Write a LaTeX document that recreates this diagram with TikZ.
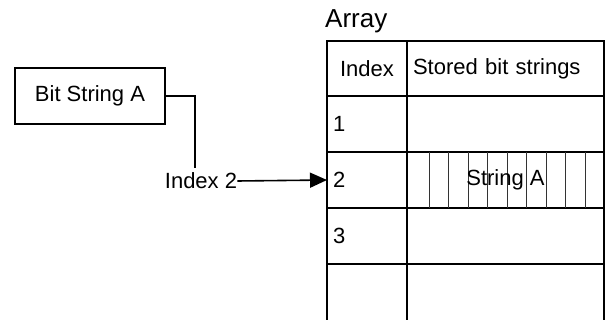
\documentclass[tikz,border=0pt]{standalone}
\usepackage{fontspec}
\setmainfont{Liberation Sans}
\usetikzlibrary{positioning,arrows.meta}

\tikzset{
  lbl/.style={font=\fontsize{22}{26}\selectfont, inner sep=0pt},
  strbox/.style={draw, line width=1.2pt, minimum width=150pt, minimum height=56pt,
    font=\fontsize{22}{26}\selectfont},
  idxcell/.style={draw, line width=1.2pt, outer sep=0pt, minimum width=80pt,
    minimum height=56pt, text width=68pt, inner xsep=6pt, align=left,
    font=\fontsize{22}{26}\selectfont},
  strcell/.style={idxcell, minimum width=197pt, text width=185pt},
  bitline/.style={line width=0.9pt, black!80}
}

\begin{document}
\begin{tikzpicture}[x=1pt,y=-1pt]
  \useasboundingbox (0,0) rectangle (606,320);

  % Nodes
  \node[strbox] (bitA) at (90,96) {Bit String A};
  \node[lbl, inner ysep=5pt] (idx_lbl) at (201,181) {Index 2};

  % table: header row
  \node[idxcell, minimum height=55pt, align=center] (hdr_i) at (367,68.5) {Index};
  \node[strcell, minimum height=55pt, right = 0pt of hdr_i] (hdr_s) {Stored bit strings};
  \node[lbl, anchor=base west] (arr) at ([shift={(-2,-13.7)}]hdr_i.north west) {\fontsize{26}{30}\selectfont Array};

  % table: rows
  \node[idxcell, below = 0pt of hdr_i] (i1) {1};
  \node[strcell, right = 0pt of i1] (s1) {};
  \node[idxcell, below = 0pt of i1] (i2) {2};
  \node[strcell, right = 0pt of i2] (s2) {};
  \node[idxcell, below = 0pt of i2] (i3) {3};
  \node[strcell, right = 0pt of i3] (s3) {};
  \node[idxcell, minimum height=62pt, anchor=north, at=(i3.south)] (i4) {};
  \node[strcell, minimum height=62pt, anchor=north, at=(s3.south)] (s4) {};

  % bits of the stored string
  \foreach \k in {0,...,8}
    \draw[bitline] ([xshift=22pt+19.5pt*\k]s2.north west) -- ([xshift=22pt+19.5pt*\k]s2.south west);
  \node[lbl] (strA) at (s2.center) {String A};

  % Edges
  \draw[line width=1.5pt] (bitA.east) -| ([xshift=-6pt]idx_lbl.north);
  \draw[line width=1.6pt, -{Triangle[length=17pt,width=15pt]}] (idx_lbl.east) -- (i2.west);
\end{tikzpicture}
\end{document}
